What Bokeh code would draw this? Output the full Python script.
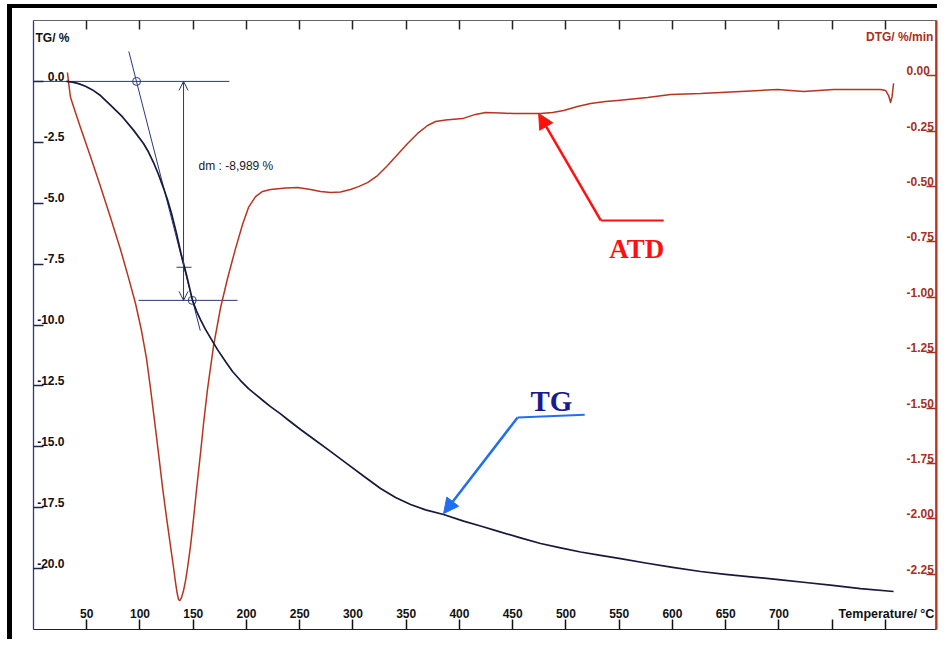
from bokeh.plotting import figure
from bokeh.models import (Range1d, LinearAxis, FixedTicker, Arrow, NormalHead,
                          OpenHead, PrintfTickFormatter, Span)
from bokeh.core.properties import value
from bokeh.embed import file_html
from bokeh.resources import INLINE

# ---------------- data ----------------
temp_tg = [31.0, 36.6, 42.3, 48.8, 55.4, 62.9, 72.3, 83.6, 93.9, 103.3, 108.0, 112.7,
           117.4, 122.1, 125.9, 129.6, 134.3, 139.0, 143.7, 149.3, 153.1, 156.9, 161.5,
           166.2, 172.8, 180.3, 186.9, 194.4, 201.9, 208.5, 216.0, 222.6, 232.0, 238.6,
           250.8, 263.0, 278.9, 294.9, 311.8, 325.9, 340.0, 354.1, 368.2, 385.1, 403.9,
           419.8, 435.8, 457.4, 476.2, 495.0, 513.8, 532.5, 551.3, 574.8, 600.2, 626.5,
           649.9, 673.4, 699.7, 725.1, 750.4, 776.7, 807.7]
tg = [0.00, -0.03, -0.09, -0.20, -0.35, -0.58, -0.97, -1.46, -2.00, -2.55, -2.90, -3.33,
      -3.82, -4.38, -4.87, -5.42, -6.24, -7.15, -7.95, -8.99, -9.43, -9.79, -10.18,
      -10.53, -11.01, -11.50, -11.91, -12.28, -12.61, -12.85, -13.12, -13.35, -13.65,
      -13.88, -14.29, -14.68, -15.19, -15.71, -16.26, -16.71, -17.08, -17.37, -17.59,
      -17.78, -18.05, -18.25, -18.46, -18.74, -18.97, -19.15, -19.32, -19.46, -19.59,
      -19.77, -19.95, -20.12, -20.24, -20.34, -20.45, -20.57, -20.69, -20.82, -20.94]

temp_dtg = [31.9, 32.9, 34.8, 39.4, 44.1, 53.5, 62.9, 72.3, 81.7, 89.2, 95.8, 101.4,
            106.1, 109.9, 113.6, 117.4, 121.2, 124.9, 128.7, 131.5, 133.4, 134.8, 136.2,
            137.6, 139.0, 140.9, 142.8, 144.7, 147.5, 150.3, 153.1, 156.9, 159.7, 163.4,
            169.1, 175.7, 182.2, 189.7, 196.3, 201.9, 208.5, 215.1, 222.6, 236.7, 248.0,
            260.2, 269.6, 279.0, 288.3, 297.7, 305.2, 313.7, 323.1, 332.5, 341.9, 351.3,
            360.7, 370.1, 377.6, 387.0, 402.9, 415.1, 424.5, 438.6, 450.8, 476.2, 487.5,
            497.8, 510.9, 523.2, 537.2, 548.5, 576.7, 598.3, 626.5, 645.3, 673.4, 698.8,
            711.0, 723.2, 737.3, 751.4, 776.7, 795.5, 800.2, 803.0, 804.9, 806.3, 807.7]
dtg = [0.015, -0.030, -0.098, -0.165, -0.233, -0.364, -0.500, -0.640, -0.784, -0.911,
       -1.028, -1.150, -1.276, -1.412, -1.556, -1.705, -1.859, -1.994, -2.125, -2.220,
       -2.288, -2.333, -2.365, -2.369, -2.356, -2.324, -2.279, -2.220, -2.121, -1.999,
       -1.868, -1.701, -1.570, -1.416, -1.218, -1.046, -0.915, -0.780, -0.671, -0.594,
       -0.545, -0.522, -0.513, -0.506, -0.504, -0.513, -0.522, -0.527, -0.524, -0.513,
       -0.500, -0.482, -0.450, -0.405, -0.355, -0.305, -0.260, -0.224, -0.206, -0.199,
       -0.193, -0.174, -0.165, -0.168, -0.170, -0.170, -0.165, -0.156, -0.138, -0.125,
       -0.116, -0.111, -0.098, -0.084, -0.080, -0.075, -0.068, -0.062, -0.066, -0.071,
       -0.066, -0.062, -0.062, -0.062, -0.066, -0.089, -0.120, -0.093, -0.034]

x_ticks = [50, 100, 150, 200, 250, 300, 350, 400, 450, 500, 550, 600, 650, 700, 750, 800]
x_tick_labels = ["50", "100", "150", "200", "250", "300", "350", "400", "450", "500",
                 "550", "600", "650", "700", "", ""]
tg_ticks = [0.0, -2.5, -5.0, -7.5, -10.0, -12.5, -15.0, -17.5, -20.0]
tg_tick_labels = ["0.0", "-2.5", "-5.0", "-7.5", "-10.0", "-12.5", "-15.0", "-17.5", "-20.0"]
dtg_ticks = [0.0, -0.25, -0.5, -0.75, -1.0, -1.25, -1.5, -1.75, -2.0, -2.25]
dtg_tick_labels = ["0.00", "-0.25", "-0.50", "-0.75", "-1.00", "-1.25", "-1.50",
                   "-1.75", "-2.00", "-2.25"]

# tangent construction (data units: °C, TG %)
dm_value = -8.989
dm_text = "dm : -8,989 %"
onset_point = (96.8, 0.0)
end_point = (149.1, -8.989)
tangent_T = [89.5, 156.6]
tangent_TG = [1.23, -10.23]
upper_line_T = [0.0, 184.0]
lower_line_T = [98.6, 191.6]
dm_arrow_T = 140.9
mid_tick_T = [134.3, 148.4]
mid_tick_TG = -7.63
dm_text_pos = (155.0, -3.46)

# call-outs
atd_path_T = [591.8, 532.7]
atd_path_DTG = [-0.653, -0.653]
atd_tip = (474.4, -0.170)
atd_text_pos = (566.5, -0.78)
tg_path_T = [517.6, 454.6]
tg_path_TG = [-13.68, -13.80]
tg_tip = (385.1, -17.74)
tg_text_pos = (486.4, -13.14)

# ---------------- styling ----------------
NAVY = "#17193c"
CONSTR = "#2a3778"
BRICK = "#b8341f"
BRICK_TXT = "#a8301c"
SANS = "Liberation Sans"
SERIF = "Liberation Serif"

T_MAX = 848
p = figure(width=930, height=635, x_range=Range1d(0, T_MAX), y_range=Range1d(-22.5, 2.5),
           output_backend="svg", toolbar_location=None,
           min_border_left=21, min_border_right=6, min_border_top=12, min_border_bottom=14)
# thick black scan frame (top and left edges) drawn as an offset shadow
p.styles = {"margin-left": "12px", "margin-top": "8px",
            "box-shadow": "-5px -4px 0px 0px black"}
p.extra_y_ranges = {"dtg": Range1d(-2.5, 0.25),
                    "tg_lab": Range1d(-22.5 - 0.218, 2.5 - 0.218),
                    "dtg_lab": Range1d(-2.5 - 0.0226, 0.25 - 0.0226)}
p.xgrid.visible = False
p.ygrid.visible = False
p.outline_line_color = None
p.background_fill_color = "white"
p.border_fill_color = "white"

def label_style(ax, color, size="12px"):
    ax.major_label_text_font = SANS
    ax.major_label_text_font_style = "bold"
    ax.major_label_text_font_size = size
    ax.major_label_text_color = color

# bottom axis (ticks + labels inside)
xa = p.xaxis[0]
xa.ticker = FixedTicker(ticks=x_ticks)
xa.major_label_overrides = dict(zip(x_ticks, x_tick_labels))
xa.major_tick_in = 10
xa.major_tick_out = 0
xa.minor_tick_line_color = None
xa.major_tick_line_color = "#111111"
xa.major_tick_line_width = 1.5
xa.axis_line_color = "#222222"
xa.axis_line_width = 1.2
xa.major_label_standoff = -21
label_style(xa, "#111111")

# top axis (ticks only)
ta = LinearAxis(ticker=FixedTicker(ticks=x_ticks))
ta.major_tick_in = 9
ta.major_tick_out = 0
ta.minor_tick_line_color = None
ta.major_tick_line_color = "#222222"
ta.major_tick_line_width = 1.5
ta.axis_line_color = "#666666"
ta.major_label_text_color = None
p.add_layout(ta, "above")

# left axis: ticks
la = p.yaxis[0]
la.ticker = FixedTicker(ticks=tg_ticks)
la.major_tick_in = 10
la.major_tick_out = 0
la.minor_tick_line_color = None
la.major_tick_line_color = "#1d2450"
la.major_tick_line_width = 1.3
la.axis_line_color = "#2b3c80"
la.axis_line_width = 1.3
la.major_label_text_color = None

# left axis: labels (slightly raised above their ticks)
la2 = LinearAxis(y_range_name="tg_lab", ticker=FixedTicker(ticks=tg_ticks))
la2.major_label_overrides = dict(zip(tg_ticks, tg_tick_labels))
la2.formatter = PrintfTickFormatter(format="%.1f")
la2.major_tick_in = 0
la2.major_tick_out = 0
la2.major_tick_line_color = None
la2.minor_tick_line_color = None
la2.axis_line_color = None
la2.major_label_standoff = -31
label_style(la2, "#111111")
p.add_layout(la2, "left")

# right axis: ticks
ra = LinearAxis(y_range_name="dtg", ticker=FixedTicker(ticks=dtg_ticks))
ra.major_tick_in = 10
ra.major_tick_out = 0
ra.minor_tick_line_color = None
ra.major_tick_line_color = BRICK_TXT
ra.major_tick_line_width = 1.3
ra.axis_line_color = BRICK
ra.axis_line_width = 2
ra.major_label_text_color = None
p.add_layout(ra, "right")

# right axis: labels
ra2 = LinearAxis(y_range_name="dtg_lab", ticker=FixedTicker(ticks=dtg_ticks))
ra2.major_label_overrides = dict(zip(dtg_ticks, dtg_tick_labels))
ra2.formatter = PrintfTickFormatter(format="%.2f")
ra2.major_tick_in = 0
ra2.major_tick_out = 0
ra2.major_tick_line_color = None
ra2.minor_tick_line_color = None
ra2.axis_line_color = None
ra2.major_label_standoff = -30
label_style(ra2, BRICK_TXT)
p.add_layout(ra2, "right")

# make sure the red DTG axis rule shows at the right edge of the frame
p.add_layout(Span(location=T_MAX, dimension="height", line_color=BRICK, line_width=2.5))

# ---------------- tangent construction ----------------
p.line(upper_line_T, [onset_point[1]] * 2, line_color=CONSTR, line_width=1)
p.line(lower_line_T, [dm_value] * 2, line_color=CONSTR, line_width=1)
p.line(tangent_T, tangent_TG, line_color=CONSTR, line_width=1)
p.line(mid_tick_T, [mid_tick_TG] * 2, line_color=CONSTR, line_width=1)
p.add_layout(Arrow(start=OpenHead(size=9, line_color=CONSTR, line_width=1),
                   end=OpenHead(size=9, line_color=CONSTR, line_width=1),
                   x_start=dm_arrow_T, y_start=0.0, x_end=dm_arrow_T, y_end=dm_value,
                   line_color=CONSTR, line_width=1))
p.scatter([onset_point[0], end_point[0]], [onset_point[1], end_point[1]], marker="circle",
          size=8, fill_color=None, line_color=CONSTR, line_width=1)
p.text([dm_text_pos[0]], [dm_text_pos[1]], text=[dm_text], text_font=value(SANS),
       text_font_size="12px", text_color="#1a1a1a", text_baseline="middle", text_align="left")

# ---------------- curves ----------------
p.line(temp_dtg, dtg, y_range_name="dtg", line_color=BRICK, line_width=1.5,
       line_join="round")
p.line(temp_tg, tg, line_color=NAVY, line_width=1.7, line_join="round")

# ---------------- call-outs ----------------
p.line(atd_path_T, atd_path_DTG, y_range_name="dtg", line_color="#ff1010", line_width=2)
p.add_layout(Arrow(end=NormalHead(size=15, fill_color="#ff1010", line_color="#ff1010"),
                   x_start=atd_path_T[1], y_start=atd_path_DTG[1], x_end=atd_tip[0],
                   y_end=atd_tip[1], y_range_name="dtg", line_color="#ff1010", line_width=2.5))
p.text([atd_text_pos[0]], [atd_text_pos[1]], text=["ATD"], y_range_name="dtg",
       text_font=value(SERIF), text_font_style="bold", text_font_size="27px",
       text_color="#ff1010", text_align="center", text_baseline="middle")

p.line(tg_path_T, tg_path_TG, line_color="#1f6ff2", line_width=2)
p.add_layout(Arrow(end=NormalHead(size=15, fill_color="#1f6ff2", line_color="#1f6ff2"),
                   x_start=tg_path_T[1], y_start=tg_path_TG[1], x_end=tg_tip[0],
                   y_end=tg_tip[1], line_color="#1f6ff2", line_width=2.5))
p.text([tg_text_pos[0]], [tg_text_pos[1]], text=["TG"], text_font=value(SERIF),
       text_font_style="bold", text_font_size="29px", text_color="#1a1a8a",
       text_align="center", text_baseline="middle")

# ---------------- axis titles ----------------
p.text([1.9], [1.79], text=["TG/ %"], text_font=value(SANS), text_font_style="bold",
       text_font_size="12px", text_color="#111111", text_align="left", text_baseline="middle")
p.text([845.0], [1.81], text=["DTG/ %/min"], text_font=value(SANS), text_font_style="bold",
       text_font_size="12px", text_color=BRICK_TXT, text_align="right", text_baseline="middle")
p.text([846.0], [-21.86], text=["Temperature/ °C"], text_font=value(SANS),
       text_font_style="bold", text_font_size="12.5px", text_color="#111111",
       text_align="right", text_baseline="middle")

open("out.html", "w").write(file_html(p, INLINE))
